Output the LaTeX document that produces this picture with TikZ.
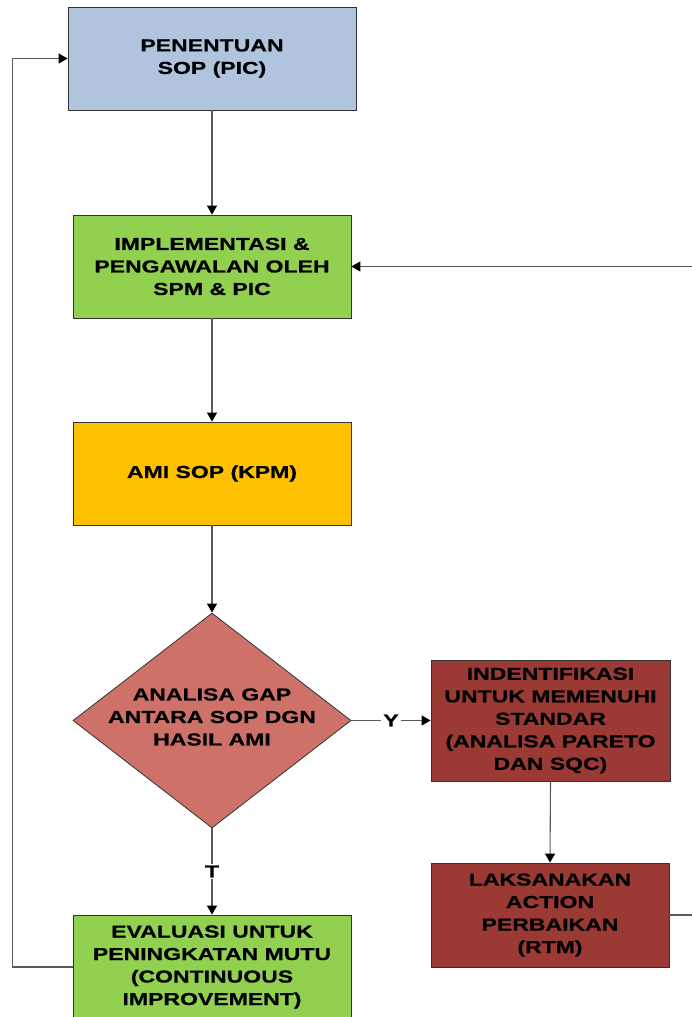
\documentclass[tikz,border=0pt]{standalone}
\usepackage{fontspec}
\setmainfont{Liberation Sans}[FakeStretch=1.33, BoldFeatures={FakeBold=0.7}]
\usetikzlibrary{shapes.geometric,arrows.meta}
\definecolor{cblue}{HTML}{B0C4DE}
\definecolor{cgreen}{HTML}{92D050}
\definecolor{corange}{HTML}{FFC000}
\definecolor{cdiam}{HTML}{CD7169}
\definecolor{cred}{HTML}{9B3A35}
\begin{document}
\begin{tikzpicture}[x=1pt,y=-1pt,
  boxstyle/.style={draw=black!80, line width=0.8pt, inner sep=0pt, align=center,
    font=\fontsize{17.3}{22.5}\selectfont\bfseries, text=black},
  txtstyle/.style={inner sep=0pt, align=center, font=\fontsize{17.3}{22.5}\selectfont\bfseries, text=black},
  conn/.style={draw=black!65, line width=1.1pt, -{Triangle[length=9pt,width=10pt,color=black]}},
  lbl/.style={fill=white, inner sep=2pt, font=\fontsize{17.3}{20}\selectfont\bfseries, text=black}]
\useasboundingbox (0,0) rectangle (691,1017);

\node[boxstyle, fill=cblue, minimum width=288pt, minimum height=103pt] (pen) at (212,58.5)
  {PENENTUAN\\SOP (PIC)};
\node[boxstyle, fill=cgreen, minimum width=278pt, minimum height=103pt] (imp) at (212,266.5)
  {IMPLEMENTASI \&\\PENGAWALAN OLEH\\SPM \& PIC};
\node[boxstyle, fill=corange, minimum width=278pt, minimum height=103pt] (ami) at (212,473.5)
  {AMI SOP (KPM)};
\node[diamond, draw=black!80, line width=0.8pt, fill=cdiam, inner sep=0pt,
  minimum width=278pt, minimum height=215pt] (gap) at (212,720.5) {};
\node[txtstyle] (gaptxt) at (212,717) {ANALISA GAP\\ANTARA SOP DGN\\HASIL AMI};
\node[boxstyle, fill=cred, minimum width=239pt, minimum height=121pt] (ind) at (550.5,720.5)
  {INDENTIFIKASI\\UNTUK MEMENUHI\\STANDAR\\(ANALISA PARETO\\DAN SQC)};
\node[boxstyle, fill=cred, minimum width=238pt, minimum height=104pt] (lak) at (550,915)
  {LAKSANAKAN\\ACTION\\PERBAIKAN\\(RTM)};
\node[boxstyle, fill=cgreen, minimum width=278pt, minimum height=104pt] (eva) at (212,967)
  {EVALUASI UNTUK\\PENINGKATAN MUTU\\(CONTINUOUS\\IMPROVEMENT)};

\draw[conn] (pen.south) -- (imp.north);
\draw[conn] (imp.south) -- (ami.north);
\draw[conn] (ami.south) -- (gap.north);
\draw[conn] (gap.east) -- node[lbl] (ylab) {Y} (ind.west);
\draw[conn] (gap.south) -- node[lbl] (tlab) {T} (eva.north);
\draw[conn] (ind.south) -- (lak.north);
\draw[conn] (lak.east) -- ++(40,0) |- (imp.east);
\draw[conn] (eva.west) -- ++(-60,0) |- (pen.west);
\end{tikzpicture}
\end{document}
